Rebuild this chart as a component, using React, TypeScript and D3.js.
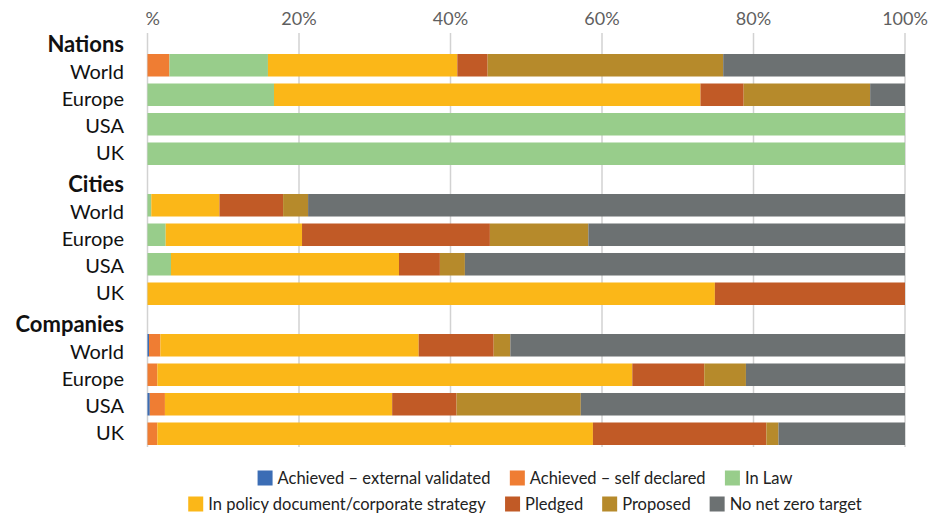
import React, { useMemo } from "react";
import * as d3 from "d3";

// Groups and the regions shown in each of them
const groups = ["Nations", "Cities", "Companies"];
const regions = ["World", "Europe", "USA", "UK"];

// Share (%) of each status, one entry per row:
// Nations World/Europe/USA/UK, Cities World/Europe/USA/UK, Companies World/Europe/USA/UK
const achievedExternal = [0, 0, 0, 0, 0, 0, 0, 0, 0.2, 0, 0.3, 0];
const achievedSelf = [2.9, 0, 0, 0, 0, 0, 0, 0, 1.5, 1.3, 2.0, 1.3];
const inLaw = [13.0, 16.7, 100, 100, 0.5, 2.4, 3.1, 0, 0, 0, 0, 0];
const inPolicy = [25.0, 56.3, 0, 0, 9.0, 18.0, 30.1, 74.9, 34.1, 62.7, 30.0, 57.5];
const pledged = [4.0, 5.7, 0, 0, 8.4, 24.8, 5.4, 25.1, 9.9, 9.5, 8.5, 22.9];
const proposed = [31.1, 16.7, 0, 0, 3.3, 13.0, 3.3, 0, 2.2, 5.5, 16.4, 1.6];
const noTarget = [24.0, 4.6, 0, 0, 78.8, 41.8, 58.1, 0, 52.1, 21.0, 42.8, 16.7];

const seriesNames = [
  "Achieved – external validated",
  "Achieved – self declared",
  "In Law",
  "In policy document/corporate strategy",
  "Pledged",
  "Proposed",
  "No net zero target",
];
const seriesValues = [achievedExternal, achievedSelf, inLaw, inPolicy, pledged, proposed, noTarget];
const seriesColors = ["#3b6db5", "#ef7d33", "#98cd8b", "#fbb718", "#c15a26", "#b68a2b", "#6c7172"];

const tickValues = [0, 20, 40, 60, 80, 100];
const tickLabels = ["%", "20%", "40%", "60%", "80%", "100%"];

// Legend rows (indices into the series)
const legendRows = [
  [0, 1, 2],
  [3, 4, 5, 6],
];

const W = 947;
const H = 515;
const FONT = "Lato, 'Open Sans', sans-serif";
const LABEL_STEP = 27; // line spacing of the label block beside each group

export default function App() {
  const x = d3.scaleLinear().domain([0, 100]).range([147.5, 905]);
  const groupY = d3.scaleBand<string>().domain(groups).range([54, 54 + 140 * 3]);
  const rowY = d3
    .scaleBand<string>()
    .domain(regions)
    .range([0, 111])
    .paddingInner(0.237)
    .paddingOuter(0);

  const rows = groups.flatMap((g) => regions.map((r) => ({ group: g, region: r })));
  const table = rows.map((row, i) => {
    const o: Record<string, number | string> = { key: `${row.group}-${row.region}` };
    seriesNames.forEach((s, k) => (o[s] = seriesValues[k][i]));
    return o;
  });
  const stacked = d3.stack<Record<string, number | string>>().keys(seriesNames)(table as any);

  const rowTop = (i: number) => (groupY(rows[i].group) as number) + (rowY(rows[i].region) as number);
  const bandH = rowY.bandwidth();

  // The label block of a group is anchored on its last bar and stacked upward
  const lastCentre = (g: string) =>
    (groupY(g) as number) + (rowY(regions[regions.length - 1]) as number) + bandH / 2;
  const labelBaseline = (g: string, j: number) =>
    lastCentre(g) + 6.5 - (regions.length - 1 - j) * LABEL_STEP;

  // Legend layout from measured text widths
  const legendSize = 16.5;
  const legend = useMemo(() => {
    const ctx = document.createElement("canvas").getContext("2d")!;
    ctx.font = `${legendSize}px ${FONT}`;
    const sw = 15;
    const gapText = 5;
    const gapItem = 19;
    const centre = 525;
    return legendRows.map((idxs, r) => {
      const widths = idxs.map((k) => ctx.measureText(seriesNames[k]).width);
      const total =
        widths.reduce((a, w) => a + sw + gapText + w, 0) + gapItem * (idxs.length - 1);
      let cx = centre - total / 2;
      return idxs.map((k, j) => {
        const item = { k, x: cx, y: r === 0 ? 478 : 504 };
        cx += sw + gapText + widths[j] + gapItem;
        return item;
      });
    });
  }, []);

  return (
    <svg
      width={W}
      height={H}
      viewBox={`0 0 ${W} ${H}`}
      style={{ position: "absolute", left: 0, top: 0, background: "#fff" }}
      fontFamily={FONT}
    >
      {/* vertical gridlines and top tick labels */}
      {tickValues.map((t, i) => (
        <g key={t}>
          <line x1={x(t)} x2={x(t)} y1={33} y2={447} stroke="#d2d2d2" strokeWidth={1.5} />
          <text
            x={i === 0 ? x(t) - 2 : x(t)}
            y={25}
            textAnchor={i === 0 ? "start" : "middle"}
            fontSize={18}
            fill="#5f5f5f"
          >
            {tickLabels[i]}
          </text>
        </g>
      ))}

      {/* stacked bars */}
      {stacked.map((layer, k) => (
        <g key={layer.key} fill={seriesColors[k]}>
          {layer.map((d, i) =>
            d[1] - d[0] > 0 ? (
              <rect
                key={i}
                x={x(d[0])}
                width={x(d[1]) - x(d[0])}
                y={rowTop(i)}
                height={bandH}
              />
            ) : null
          )}
        </g>
      ))}

      {/* group headers */}
      {groups.map((g) => (
        <text
          key={g}
          x={124}
          y={labelBaseline(g, -1)}
          textAnchor="end"
          fontSize={22}
          fontWeight={700}
          fill="#111"
        >
          {g}
        </text>
      ))}

      {/* row labels */}
      {rows.map((row, i) => (
        <text
          key={i}
          x={124}
          y={labelBaseline(row.group, regions.indexOf(row.region))}
          textAnchor="end"
          fontSize={20}
          fill="#111"
        >
          {row.region}
        </text>
      ))}

      {/* legend */}
      {legend.flat().map(({ k, x: lx, y: ly }) => (
        <g key={k}>
          <rect x={lx} y={ly - 7.5} width={15} height={15} fill={seriesColors[k]} />
          <text x={lx + 20} y={ly} dy="0.36em" fontSize={legendSize} fill="#222">
            {seriesNames[k]}
          </text>
        </g>
      ))}
    </svg>
  );
}
